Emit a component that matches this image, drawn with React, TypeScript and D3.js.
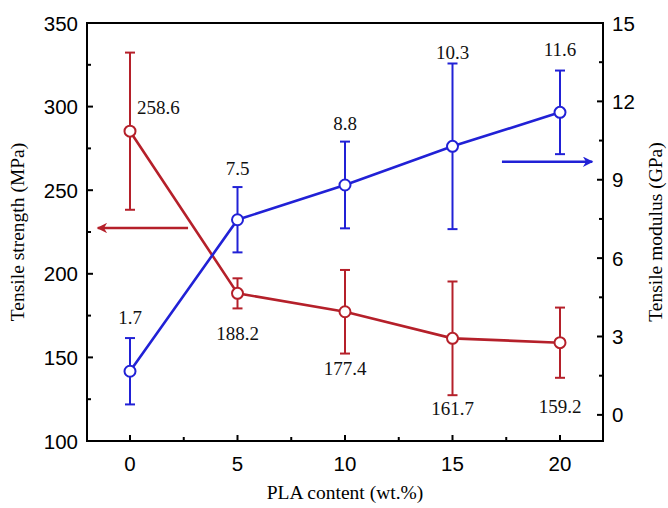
import React from 'react'
import * as d3 from 'd3'

const pla = [0, 5, 10, 15, 20]
const strength = [285.3, 188.3, 177.3, 161.4, 158.8]
const strengthErr = [47, 9, 25, 34, 21]
const strengthLabels = ['258.6', '188.2', '177.4', '161.7', '159.2']
const modulus = [1.67, 7.47, 8.8, 10.28, 11.58]
const modulusErr = [1.27, 1.25, 1.66, 3.17, 1.6]
const modulusLabels = ['1.7', '7.5', '8.8', '10.3', '11.6']

const xTicks = [0, 5, 10, 15, 20]
const leftTicks = [100, 150, 200, 250, 300, 350]
const rightTicks = [0, 3, 6, 9, 12, 15]

// label offsets (px): strength labels from the point, modulus labels from the upper cap
const strengthLabelPos = [
  { dx: 7, dy: -17, anchor: 'start' },
  { dx: 0, dy: 47, anchor: 'middle' },
  { dx: 0, dy: 63, anchor: 'middle' },
  { dx: 0, dy: 77, anchor: 'middle' },
  { dx: 0, dy: 70, anchor: 'middle' }
]
const modulusLabelPos = [-14, -12, -12, -4, -15]

const RED = '#b5202a'
const BLUE = '#2121d6'

const width = 668
const height = 508
const margin = { top: 23, right: 65, bottom: 67, left: 87 }

const App = () => {
  const x = d3.scaleLinear().domain([-2, 22]).range([margin.left, width - margin.right])
  const yL = d3.scaleLinear().domain([100, 350]).range([height - margin.bottom, margin.top])
  const yR = d3.scaleLinear().domain([-1, 15]).range([height - margin.bottom, margin.top])

  const x0 = margin.left
  const x1 = width - margin.right
  const y0 = height - margin.bottom
  const y1 = margin.top

  const lineL = d3.line().x((d, i) => x(pla[i])).y(d => yL(d))
  const lineR = d3.line().x((d, i) => x(pla[i])).y(d => yR(d))

  const xMinor = d3.range(2.5, 22, 5)
  const leftMinor = d3.range(125, 350, 50)
  const rightMinor = d3.range(1.5, 15, 3)

  const serif = '"Liberation Serif", "Times New Roman", serif'
  const sans = '"Liberation Sans", Arial, sans-serif'

  const errBar = (cx, lo, hi, color, key) => (
    <g key={key} stroke={color} strokeWidth={2}>
      <line x1={cx} x2={cx} y1={lo} y2={hi} />
      <line x1={cx - 5} x2={cx + 5} y1={lo} y2={lo} />
      <line x1={cx - 5} x2={cx + 5} y1={hi} y2={hi} />
    </g>
  )

  return (
    <svg width={width} height={height} style={{ position: 'absolute', left: 0, top: 0, background: '#fff' }}>
      {/* series lines */}
      <path d={lineL(strength)} fill="none" stroke={RED} strokeWidth={2.6} />
      <path d={lineR(modulus)} fill="none" stroke={BLUE} strokeWidth={2.6} />

      {/* error bars */}
      {strength.map((v, i) => errBar(x(pla[i]), yL(v - strengthErr[i]), yL(v + strengthErr[i]), RED, 's' + i))}
      {modulus.map((v, i) => errBar(x(pla[i]), yR(v - modulusErr[i]), yR(v + modulusErr[i]), BLUE, 'm' + i))}

      {/* markers */}
      {strength.map((v, i) => (
        <circle key={'sc' + i} cx={x(pla[i])} cy={yL(v)} r={5.5} fill="#fff" stroke={RED} strokeWidth={2} />
      ))}
      {modulus.map((v, i) => (
        <circle key={'mc' + i} cx={x(pla[i])} cy={yR(v)} r={5.5} fill="#fff" stroke={BLUE} strokeWidth={2} />
      ))}

      {/* value labels */}
      {strength.map((v, i) => {
        const p = strengthLabelPos[i]
        return (
          <text key={'sl' + i} x={x(pla[i]) + p.dx} y={yL(v) + p.dy} textAnchor={p.anchor}
            fontFamily={serif} fontSize={19} fill="#111">{strengthLabels[i]}</text>
        )
      })}
      {modulus.map((v, i) => (
        <text key={'ml' + i} x={x(pla[i])} y={yR(v + modulusErr[i]) + modulusLabelPos[i]} textAnchor="middle"
          fontFamily={serif} fontSize={19} fill="#111">{modulusLabels[i]}</text>
      ))}

      {/* arrows */}
      <defs>
        <marker id="headR" viewBox="0 0 10 10" refX={9} refY={5} markerWidth={4.5} markerHeight={4} orient="auto">
          <path d="M0,0 L10,5 L0,10 L3,5 Z" fill={RED} />
        </marker>
        <marker id="headB" viewBox="0 0 10 10" refX={9} refY={5} markerWidth={4.5} markerHeight={4} orient="auto">
          <path d="M0,0 L10,5 L0,10 L3,5 Z" fill={BLUE} />
        </marker>
      </defs>
      <line x1={x(2.7)} x2={x(-1.5)} y1={yL(227.4)} y2={yL(227.4)} stroke={RED} strokeWidth={2.6} markerEnd="url(#headR)" />
      <line x1={x(17.3)} x2={x(21.5)} y1={yR(9.69)} y2={yR(9.69)} stroke={BLUE} strokeWidth={2.6} markerEnd="url(#headB)" />

      {/* frame */}
      <rect x={x0} y={y1} width={x1 - x0} height={y0 - y1} fill="none" stroke="#000" strokeWidth={2} />

      {/* bottom ticks */}
      {xTicks.map(t => (
        <g key={'xt' + t}>
          <line x1={x(t)} x2={x(t)} y1={y0} y2={y0 - 6} stroke="#000" strokeWidth={2} />
          <text x={x(t)} y={y0 + 30} textAnchor="middle" fontFamily={sans} fontSize={20.5}>{t}</text>
        </g>
      ))}
      {xMinor.map(t => (
        <line key={'xm' + t} x1={x(t)} x2={x(t)} y1={y0} y2={y0 - 4} stroke="#000" strokeWidth={2} />
      ))}

      {/* left ticks */}
      {leftTicks.map(t => (
        <g key={'lt' + t}>
          <line x1={x0} x2={x0 + 6} y1={yL(t)} y2={yL(t)} stroke="#000" strokeWidth={2} />
          <text x={x0 - 9} y={yL(t) + 7.5} textAnchor="end" fontFamily={sans} fontSize={20.5}>{t}</text>
        </g>
      ))}
      {leftMinor.map(t => (
        <line key={'lm' + t} x1={x0} x2={x0 + 4} y1={yL(t)} y2={yL(t)} stroke="#000" strokeWidth={2} />
      ))}

      {/* right ticks */}
      {rightTicks.map(t => (
        <g key={'rt' + t}>
          <line x1={x1} x2={x1 - 6} y1={yR(t)} y2={yR(t)} stroke="#000" strokeWidth={2} />
          <text x={x1 + 9} y={yR(t) + 7.5} textAnchor="start" fontFamily={sans} fontSize={20.5}>{t}</text>
        </g>
      ))}
      {rightMinor.map(t => (
        <line key={'rm' + t} x1={x1} x2={x1 - 4} y1={yR(t)} y2={yR(t)} stroke="#000" strokeWidth={2} />
      ))}

      {/* axis titles */}
      <text x={(x0 + x1) / 2} y={499} textAnchor="middle" fontFamily={serif} fontSize={19.5}>PLA content (wt.%)</text>
      <text transform={`translate(24,${(y0 + y1) / 2}) rotate(-90)`} textAnchor="middle" fontFamily={serif} fontSize={19.5}>Tensile strength (MPa)</text>
      <text transform={`translate(662,${(y0 + y1) / 2}) rotate(-90)`} textAnchor="middle" fontFamily={serif} fontSize={19.5}>Tensile modulus (GPa)</text>
    </svg>
  )
}

export default App
